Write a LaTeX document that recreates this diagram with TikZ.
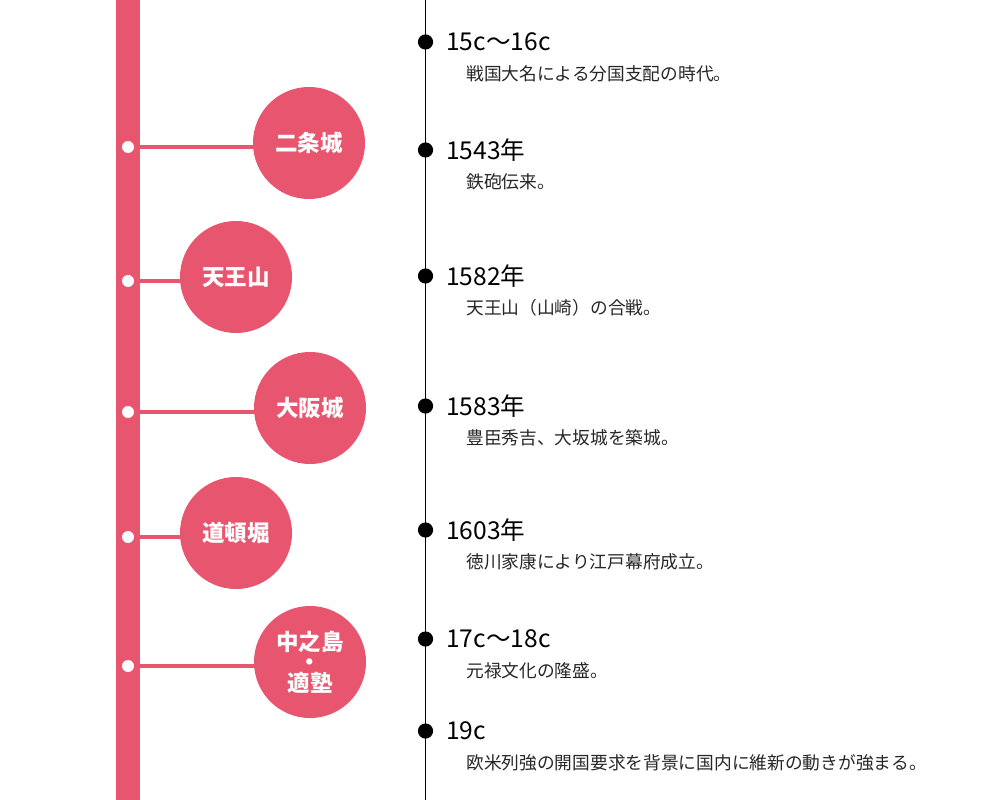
\documentclass[tikz,border=0pt]{standalone}
\usepackage{fontspec}
\setmainfont{Noto Sans CJK JP}
\usetikzlibrary{positioning,backgrounds}
\definecolor{rosered}{RGB}{232,85,110}

\begin{document}
\begin{tikzpicture}[
    x=0.025cm, y=-0.025cm,
    spot/.style={circle,fill=rosered,minimum size=2.8cm,inner sep=0pt,align=center,text=white,font=\fontsize{16}{14.5}\selectfont\bfseries},
    knob/.style={circle,fill=white,minimum size=0.3cm,inner sep=0pt},
    pin/.style={circle,fill=black,minimum size=0.38cm,inner sep=0pt},
    year/.style={anchor=west,inner sep=0pt,font=\fontsize{17.5}{19}\selectfont},
    note/.style={anchor=west,inner sep=0pt,font=\fontsize{12.6}{14}\selectfont,text=black!85},
    link/.style={rosered,line width=0.1cm}
]
\useasboundingbox (0,0) rectangle (1000,800);

% pink rail and black time line
\fill[rosered] (116,0) rectangle (140,800);
\coordinate (top) at (425.5,0);
\coordinate (bottom) at (425.5,800);
\draw[black,line width=0.75pt] (top) -- (bottom);

% places
\node[knob] (k1) at (128,147) {};
\node[knob] (k2) at (128,281) {};
\node[knob] (k3) at (128,412) {};
\node[knob] (k4) at (128,537) {};
\node[knob] (k5) at (128,666) {};

\node[spot] (nijo) at (309,143) {二条城};
\node[spot] (tenno) at (236,277) {天王山};
\node[spot] (osaka) at (310,408) {大阪城};
\node[spot] (dotonbori) at (236,533) {道頓堀};
\node[spot] (nakanoshima) at (310,662) {中之島\\・\\適塾};

\begin{scope}[on background layer]
\draw[link] (k1) -- (k1 -| nijo.center);
\draw[link] (k2) -- (k2 -| tenno.center);
\draw[link] (k3) -- (k3 -| osaka.center);
\draw[link] (k4) -- (k4 -| dotonbori.center);
\draw[link] (k5) -- (k5 -| nakanoshima.center);
\end{scope}

% events
\node[pin] (p1) at (425.5,42) {};
\node[pin] (p2) at (425.5,150) {};
\node[pin] (p3) at (425.5,276) {};
\node[pin] (p4) at (425.5,406) {};
\node[pin] (p5) at (425.5,530) {};
\node[pin] (p6) at (425.5,639) {};
\node[pin] (p7) at (425.5,731) {};

\node[year] (y1) at (446,42) {15c〜16c};
\node[year] (y2) at (446,150) {1543年};
\node[year] (y3) at (446,276) {1582年};
\node[year] (y4) at (446,406) {1583年};
\node[year] (y5) at (446,530) {1603年};
\node[year] (y6) at (446,639) {17c〜18c};
\node[year] (y7) at (446,731) {19c};

\node[note] (n1) at (466,74) {戦国大名による分国支配の時代。};
\node[note] (n2) at (466,182) {鉄砲伝来。};
\node[note] (n3) at (466,308) {天王山（山崎）の合戦。};
\node[note] (n4) at (466,438) {豊臣秀吉、大坂城を築城。};
\node[note] (n5) at (466,562) {徳川家康により江戸幕府成立。};
\node[note] (n6) at (466,671) {元禄文化の隆盛。};
\node[note] (n7) at (466,763) {欧米列強の開国要求を背景に国内に維新の動きが強まる。};
\end{tikzpicture}
\end{document}
